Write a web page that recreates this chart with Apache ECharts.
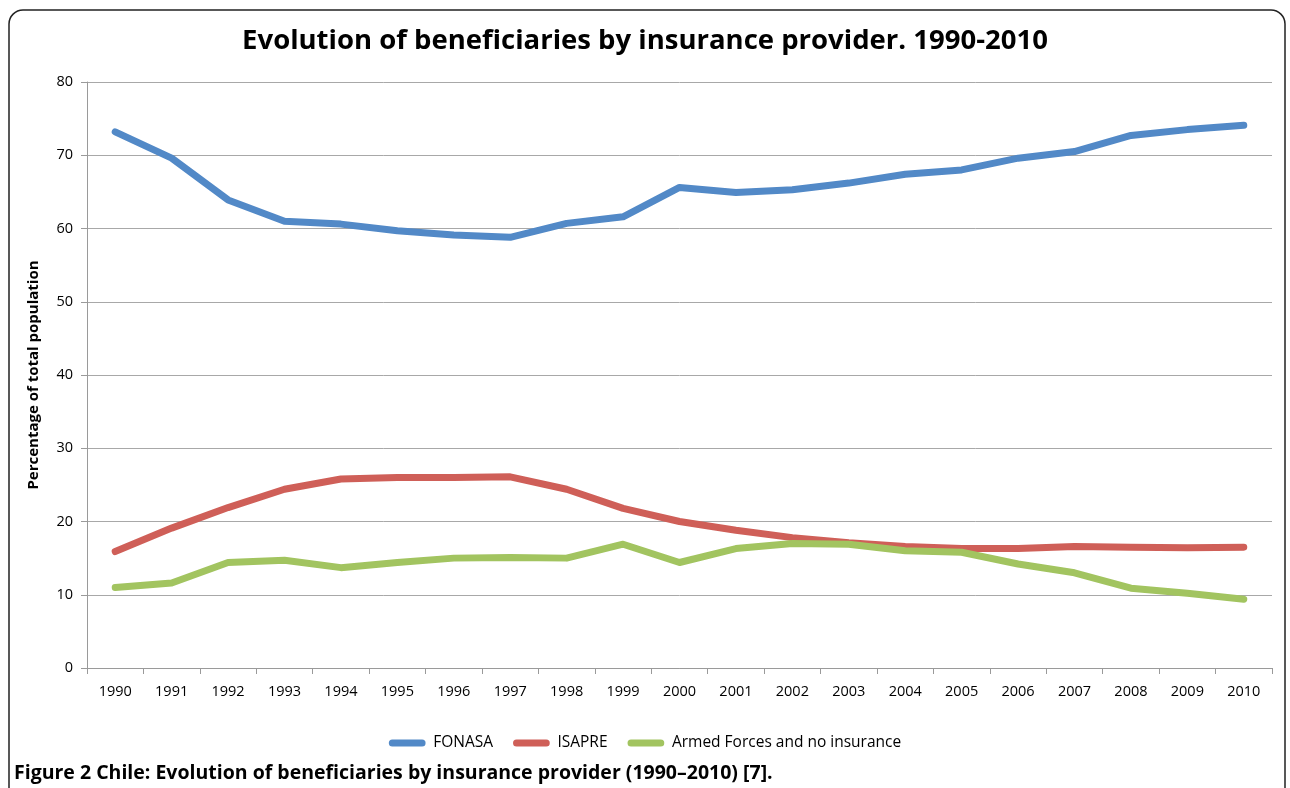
<!DOCTYPE html>
<html>
<head>
<meta charset="utf-8">
<script src="https://cdn.jsdelivr.net/npm/echarts@6/dist/echarts.min.js"></script>
<style>
html,body{margin:0;padding:0;background:#fff;}
#chart{width:1290px;height:788px;}
</style>
</head>
<body>
<div id="chart"></div>
<script>
const years = ['1990','1991','1992','1993','1994','1995','1996','1997','1998','1999','2000','2001','2002','2003','2004','2005','2006','2007','2008','2009','2010'];
const fonasa = [73.2,69.6,63.9,61.0,60.6,59.7,59.1,58.8,60.7,61.6,65.6,64.9,65.3,66.2,67.4,68.0,69.6,70.5,72.7,73.5,74.1];
const isapre = [15.9,19.1,21.9,24.4,25.8,26.0,26.0,26.1,24.4,21.8,20.0,18.8,17.8,17.1,16.6,16.3,16.3,16.6,16.5,16.4,16.5];
const armed = [11.0,11.6,14.4,14.7,13.7,14.4,15.0,15.1,15.0,16.9,14.4,16.3,17.0,16.9,16.0,15.8,14.2,13.0,10.9,10.2,9.4];
const yTicks = [0,10,20,30,40,50,60,70,80];

const font = '"Open Sans", "Liberation Sans", sans-serif';
const chart = echarts.init(document.getElementById('chart'), null, {renderer:'canvas'});
const capsule = 'path://M4,0 L38,0 A4,4 0 0 1 38,8 L4,8 A4,4 0 0 1 4,0 Z';

chart.setOption({
  backgroundColor:'#fff',
  animation:false,
  title:{
    text:'Evolution of beneficiaries by insurance provider. 1990-2010',
    left:'center', top:22,
    textStyle:{fontFamily:font, fontWeight:'bold', fontSize:27.5, color:'#000'}
  },
  graphic:[
    {type:'rect', shape:{x:9, y:10, width:1276, height:800, r:14},
     style:{fill:'none', stroke:'#222', lineWidth:1.5}, z:-1},
    {type:'text', left:14, top:763,
     style:{text:'Figure 2 Chile: Evolution of beneficiaries by insurance provider (1990–2010) [7].',
       font:'bold 19.5px "Open Sans", sans-serif', fill:'#000'}}
  ],
  legend:{
    bottom:32, left:'center',
    icon:capsule, itemWidth:42, itemHeight:7, itemGap:20,
    textStyle:{fontFamily:font, fontSize:15.5, color:'#000'},
    data:['FONASA','ISAPRE','Armed Forces and no insurance']
  },
  grid:{left:87, right:18, top:82, bottom:120},
  xAxis:{
    type:'category', data:years, boundaryGap:true,
    axisLine:{lineStyle:{color:'#9a9a9a', width:1}},
    axisTick:{show:true, length:6, alignWithLabel:false, lineStyle:{color:'#9a9a9a'}},
    axisLabel:{fontFamily:font, fontSize:14.5, color:'#000', margin:16}
  },
  yAxis:{
    type:'value', min:yTicks[0], max:yTicks[yTicks.length-1], interval:10,
    name:'Percentage of total population', nameLocation:'middle', nameGap:46,
    nameTextStyle:{fontFamily:font, fontWeight:'bold', fontSize:15, color:'#000'},
    axisLine:{show:true, lineStyle:{color:'#9a9a9a', width:1}},
    axisTick:{show:true, length:6, lineStyle:{color:'#9a9a9a'}},
    axisLabel:{fontFamily:font, fontSize:14.5, color:'#000', margin:14},
    splitLine:{lineStyle:{color:'#a8a8a8', width:1}}
  },
  series:[
    {name:'FONASA', type:'line', data:fonasa, symbol:'none', color:'#5289C7',
     lineStyle:{width:7, cap:'round', join:'round', color:'#5289C7'}},
    {name:'ISAPRE', type:'line', data:isapre, symbol:'none', color:'#CF5F58',
     lineStyle:{width:7, cap:'round', join:'round', color:'#CF5F58'}},
    {name:'Armed Forces and no insurance', type:'line', data:armed, symbol:'none', color:'#A2C460',
     lineStyle:{width:7, cap:'round', join:'round', color:'#A2C460'}}
  ]
});
</script>
</body>
</html>
